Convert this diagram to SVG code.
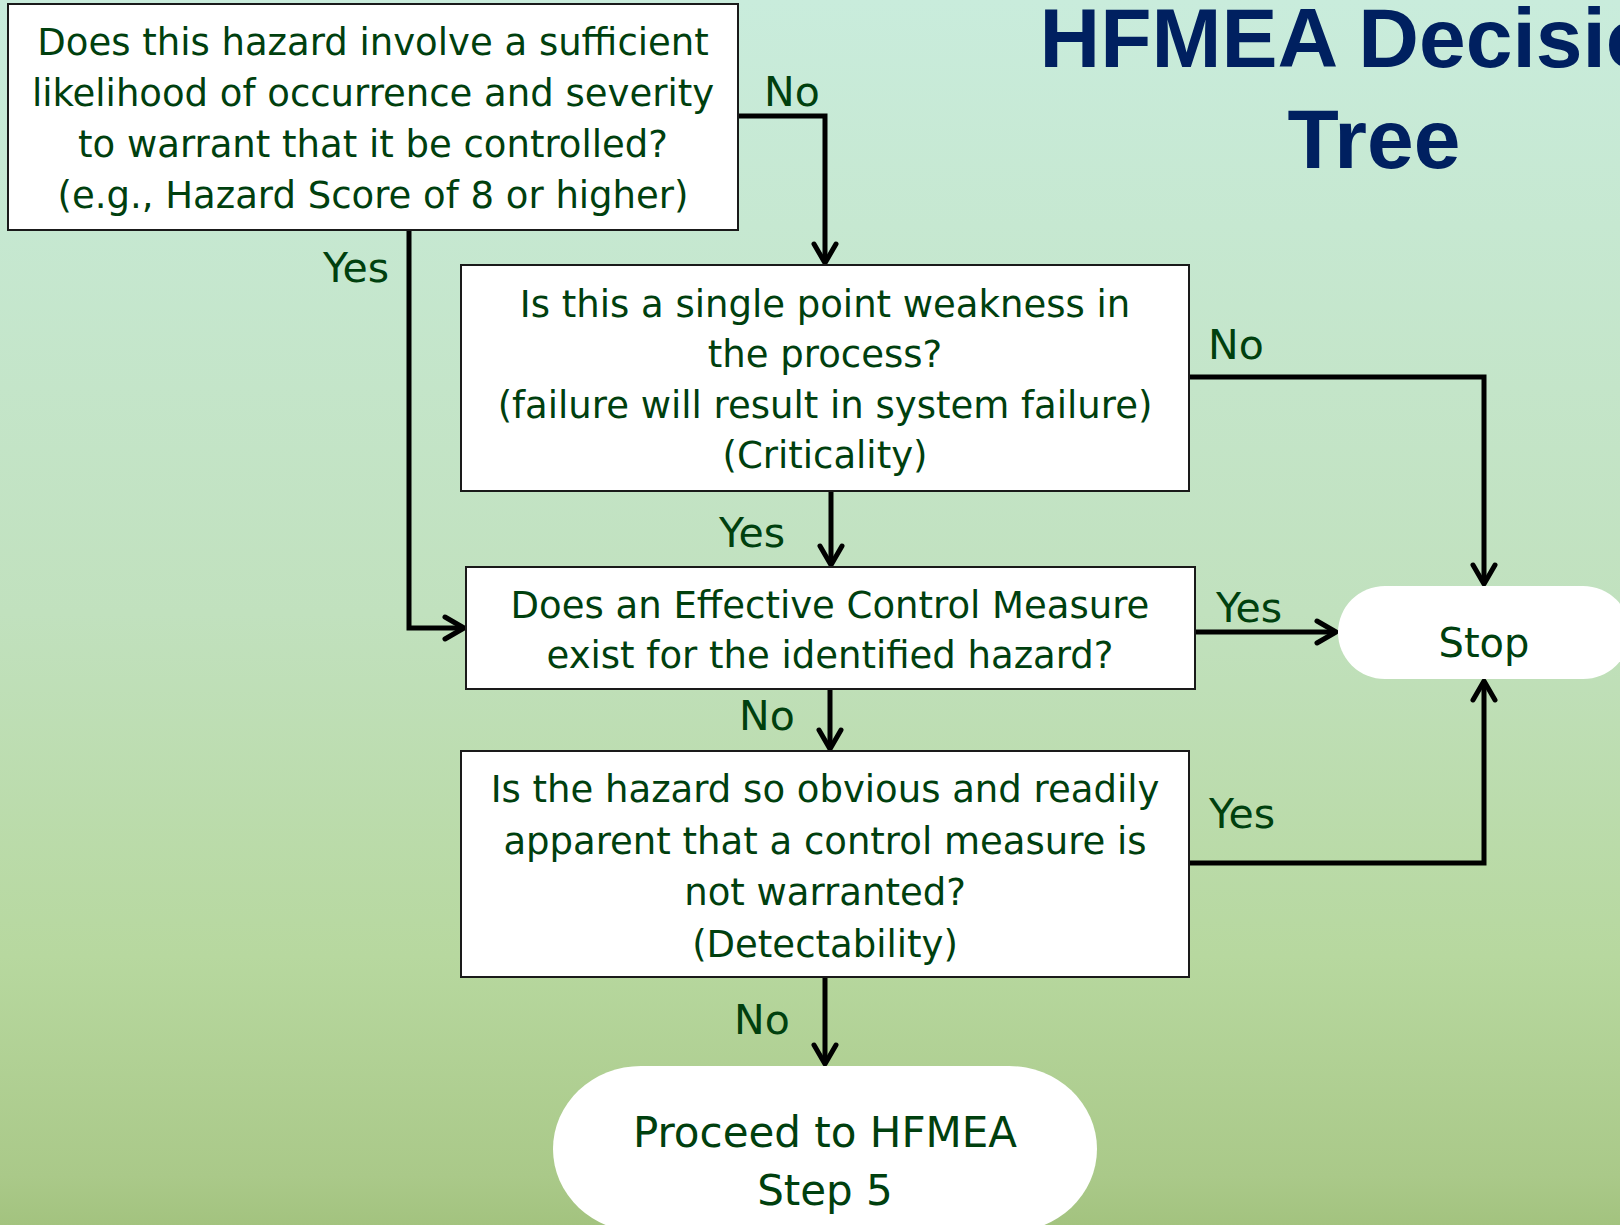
<svg xmlns="http://www.w3.org/2000/svg" width="1620" height="1225" viewBox="0 0 1620 1225">
  <defs>
    <linearGradient id="bg" x1="0" y1="0" x2="0" y2="1">
      <stop offset="0" stop-color="#c9ecdc"/>
      <stop offset="0.5" stop-color="#c1e1be"/>
      <stop offset="0.78" stop-color="#b7d89f"/>
      <stop offset="0.96" stop-color="#aac989"/>
      <stop offset="1" stop-color="#a3c37f"/>
    </linearGradient>
    <marker id="arrow" markerUnits="userSpaceOnUse" markerWidth="40" markerHeight="40" viewBox="-30 -20 40 40" refX="0" refY="0" orient="auto" overflow="visible">
      <path d="M-19,-11 L0,0 L-19,11" fill="none" stroke="#000" stroke-width="5" stroke-linecap="round" stroke-linejoin="round"/>
    </marker>
    <style>
      .box { fill: #ffffff; stroke: #1a1a1a; stroke-width: 2; }
      .term { fill: #ffffff; }
      .txt { font-family: "DejaVu Sans", Verdana, sans-serif; font-size: 37px; fill: #00400e; text-anchor: middle; }
      .lbl { font-family: "DejaVu Sans", Verdana, sans-serif; font-size: 41px; fill: #00400e; }
      .big { font-family: "DejaVu Sans", Verdana, sans-serif; font-size: 42px; fill: #00400e; text-anchor: middle; }
      .title { font-family: "Liberation Sans", Arial, sans-serif; font-weight: bold; font-size: 84px; fill: #002060; text-anchor: middle; }
      .conn { fill: none; stroke: #000; stroke-width: 5; stroke-linejoin: miter; marker-end: url(#arrow); }
    </style>
  </defs>

  <rect x="0" y="0" width="1620" height="1225" fill="url(#bg)"/>

  <!-- Title (runs past the right edge) -->
  <g id="title">
    <text class="title" x="1374" y="67">HFMEA Decision</text>
    <text class="title" x="1374" y="168">Tree</text>
  </g>

  <!-- Connectors -->
  <g id="connectors">
    <path class="conn" d="M738,116 H825 V263"/>
    <path class="conn" d="M409,230 V628 H464"/>
    <path class="conn" d="M831,491 V565"/>
    <path class="conn" d="M1189,377 H1484 V584"/>
    <path class="conn" d="M1195,632 H1336"/>
    <path class="conn" d="M830,689 V749"/>
    <path class="conn" d="M1189,863 H1484 V681"/>
    <path class="conn" d="M825,977 V1064"/>
  </g>

  <!-- Connector labels -->
  <g id="labels">
    <text class="lbl" x="764" y="106">No</text>
    <text class="lbl" x="323" y="282">Yes</text>
    <text class="lbl" x="1208" y="359">No</text>
    <text class="lbl" x="719" y="547">Yes</text>
    <text class="lbl" x="1216" y="622">Yes</text>
    <text class="lbl" x="739" y="730">No</text>
    <text class="lbl" x="1209" y="828">Yes</text>
    <text class="lbl" x="734" y="1034">No</text>
  </g>

  <!-- Decision: hazard score -->
  <g id="q-hazard">
    <rect class="box" x="8" y="4" width="730" height="226"/>
    <text class="txt" x="373" y="55">Does this hazard involve a sufficient</text>
    <text class="txt" x="373" y="106">likelihood of occurrence and severity</text>
    <text class="txt" x="373" y="157">to warrant that it be controlled?</text>
    <text class="txt" x="373" y="208">(e.g., Hazard Score of 8 or higher)</text>
  </g>

  <!-- Decision: criticality -->
  <g id="q-criticality">
    <rect class="box" x="461" y="265" width="728" height="226"/>
    <text class="txt" x="825" y="317">Is this a single point weakness in</text>
    <text class="txt" x="825" y="367">the process?</text>
    <text class="txt" x="825" y="418">(failure will result in system failure)</text>
    <text class="txt" x="825" y="468">(Criticality)</text>
  </g>

  <!-- Decision: control measure -->
  <g id="q-control">
    <rect class="box" x="466" y="567" width="729" height="122"/>
    <text class="txt" x="830" y="618">Does an Effective Control Measure</text>
    <text class="txt" x="830" y="668">exist for the identified hazard?</text>
  </g>

  <!-- Decision: detectability -->
  <g id="q-detectability">
    <rect class="box" x="461" y="751" width="728" height="226"/>
    <text class="txt" x="825" y="802">Is the hazard so obvious and readily</text>
    <text class="txt" x="825" y="854">apparent that a control measure is</text>
    <text class="txt" x="825" y="905">not warranted?</text>
    <text class="txt" x="825" y="957">(Detectability)</text>
  </g>

  <!-- Terminal: stop -->
  <g id="t-stop">
    <rect class="term" x="1338" y="586" width="292" height="93" rx="47" ry="46.5"/>
    <text class="big" x="1484" y="657" style="font-size:40px">Stop</text>
  </g>

  <!-- Terminal: proceed -->
  <g id="t-proceed">
    <rect class="term" x="553" y="1066" width="544" height="166" rx="88" ry="83"/>
    <text class="big" x="825" y="1147">Proceed to HFMEA</text>
    <text class="big" x="825" y="1205">Step 5</text>
  </g>
</svg>
